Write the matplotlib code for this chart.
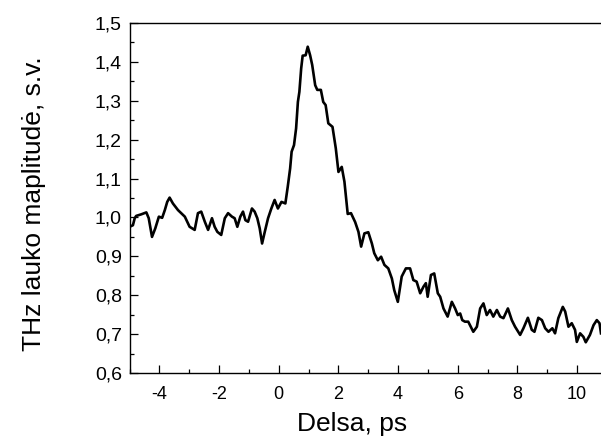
import matplotlib
matplotlib.use("Agg")
import matplotlib.pyplot as plt
from matplotlib.ticker import MultipleLocator, FuncFormatter

plt.rcParams["font.family"] = ["Liberation Sans", "DejaVu Sans"]

# THz field amplitude versus delay time
delay_ps = [
    -5.00, -4.89, -4.83, -4.78, -4.61, -4.44, -4.36, -4.25, -4.14, -4.02,
    -3.91, -3.82, -3.74, -3.66, -3.55, -3.38, -3.15, -2.99, -2.82, -2.71,
    -2.60, -2.48, -2.37, -2.24, -2.15, -2.06, -1.93, -1.81, -1.70, -1.57,
    -1.48, -1.39, -1.29, -1.20, -1.12, -1.03, -0.90, -0.81, -0.72, -0.64,
    -0.56, -0.47, -0.36, -0.25, -0.14, -0.03, 0.09, 0.22, 0.30, 0.38,
    0.43, 0.51, 0.58, 0.64, 0.69, 0.75, 0.80, 0.90, 0.97, 1.05,
    1.12, 1.22, 1.29, 1.41, 1.49, 1.57, 1.66, 1.80, 1.91, 2.00,
    2.11, 2.20, 2.31, 2.42, 2.56, 2.67, 2.76, 2.87, 3.00, 3.12,
    3.20, 3.32, 3.43, 3.54, 3.67, 3.79, 3.87, 3.99, 4.12, 4.26,
    4.40, 4.51, 4.62, 4.74, 4.85, 4.93, 4.99, 5.10, 5.21, 5.33,
    5.41, 5.52, 5.66, 5.80, 5.91, 6.00, 6.08, 6.15, 6.24, 6.35,
    6.41, 6.52, 6.64, 6.75, 6.86, 6.97, 7.08, 7.19, 7.31, 7.42,
    7.53, 7.68, 7.81, 7.92, 8.09, 8.20, 8.35, 8.48, 8.57, 8.70,
    8.82, 8.93, 9.04, 9.17, 9.26, 9.37, 9.52, 9.60, 9.71, 9.82,
    9.93, 9.99, 10.10, 10.21, 10.29, 10.43, 10.55, 10.66, 10.75, 10.80,
]
amplitude = [
    0.976, 0.980, 0.998, 1.004, 1.008, 1.013, 0.998, 0.950, 0.972, 1.002,
    0.999, 1.019, 1.040, 1.051, 1.036, 1.019, 1.002, 0.976, 0.968, 1.011,
    1.015, 0.989, 0.968, 0.998, 0.976, 0.963, 0.955, 0.998, 1.011, 1.002,
    0.998, 0.976, 1.002, 1.015, 0.993, 0.989, 1.023, 1.015, 0.998, 0.972,
    0.933, 0.963, 0.998, 1.023, 1.045, 1.023, 1.040, 1.036, 1.079, 1.126,
    1.169, 1.186, 1.229, 1.297, 1.323, 1.383, 1.416, 1.417, 1.439, 1.417,
    1.392, 1.340, 1.328, 1.328, 1.297, 1.289, 1.242, 1.233, 1.178, 1.117,
    1.130, 1.092, 1.009, 1.011, 0.988, 0.963, 0.925, 0.959, 0.962, 0.933,
    0.908, 0.890, 0.899, 0.878, 0.869, 0.843, 0.813, 0.783, 0.848, 0.869,
    0.869, 0.839, 0.835, 0.805, 0.822, 0.831, 0.796, 0.852, 0.856, 0.805,
    0.796, 0.766, 0.745, 0.783, 0.766, 0.749, 0.753, 0.736, 0.732, 0.732,
    0.723, 0.706, 0.719, 0.766, 0.779, 0.749, 0.762, 0.745, 0.762, 0.745,
    0.741, 0.766, 0.736, 0.719, 0.698, 0.715, 0.742, 0.711, 0.706, 0.742,
    0.736, 0.715, 0.706, 0.715, 0.702, 0.741, 0.770, 0.758, 0.719, 0.728,
    0.711, 0.680, 0.702, 0.693, 0.679, 0.698, 0.723, 0.736, 0.728, 0.702,
]

x_range = (-5, 11)
y_range = (0.6, 1.5)

fig = plt.figure(figsize=(6.01, 4.38), dpi=100)
ax = fig.add_axes([0.2157, 0.1484, 0.7942, 0.7991])

ax.plot(delay_ps, amplitude, color="black", lw=1.9, solid_joinstyle="round")

ax.set_xlim(*x_range)
ax.set_ylim(*y_range)

ax.xaxis.set_major_locator(MultipleLocator(2))
ax.xaxis.set_minor_locator(MultipleLocator(1))
ax.yaxis.set_major_locator(MultipleLocator(0.1))
ax.yaxis.set_minor_locator(MultipleLocator(0.05))

ax.xaxis.set_major_formatter(FuncFormatter(lambda v, p: f"{v:.0f}".replace("\u2212", "-")))
ax.yaxis.set_major_formatter(FuncFormatter(lambda v, p: f"{v:.1f}".replace(".", ",")))

ax.tick_params(which="both", direction="in", top=False, right=False,
               width=0.9, colors="black")
ax.tick_params(which="major", length=5.5)
ax.tick_params(which="minor", length=3)
ax.tick_params(axis="x", which="major", labelsize=13, pad=9.5)
ax.tick_params(axis="y", which="major", labelsize=14, pad=5.5)

for s in ax.spines.values():
    s.set_linewidth(1.0)

ax.set_xlabel("Delsa, ps", fontsize=19)
ax.set_ylabel("THz lauko maplitudė, s.v.", fontsize=19)
ax.xaxis.set_label_coords(0.466, -0.112)
ax.yaxis.set_label_coords(-0.175, 0.485)

fig.savefig("out.png", dpi=100)
